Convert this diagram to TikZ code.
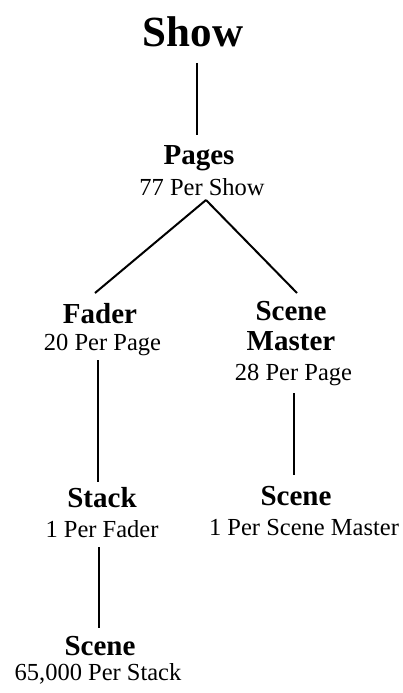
\documentclass[tikz,border=0pt]{standalone}
\usepackage{fontspec}
\setmainfont{Liberation Serif}
\begin{document}
\begin{tikzpicture}[x=1pt,y=-1pt,
  title/.style={anchor=base,inner sep=0pt,font=\fontsize{43}{45}\selectfont\bfseries},
  head/.style={anchor=base,inner sep=0pt,font=\fontsize{29}{31}\selectfont\bfseries},
  sub/.style={anchor=base,inner sep=0pt,font=\fontsize{24.5}{26}\selectfont},
  link/.style={line width=2pt}]
\useasboundingbox (0,0) rectangle (402,693);
% text
\node[title] (show) at (193,47) {Show};
\node[head] (pages) at (199,164) {Pages};
\node[sub] (pagesn) at (202,195) {77 Per Show};
\node[head] (fader) at (100,323) {Fader};
\node[sub] (fadern) at (102.5,350) {20 Per Page};
\node[head] (sm1) at (291,320) {Scene};
\node[head] (sm2) at (291,350) {Master};
\node[sub] (smn) at (293.5,380) {28 Per Page};
\node[head] (stack) at (102,507) {Stack};
\node[sub] (stackn) at (102,537) {1 Per Fader};
\node[head] (scener) at (296,505) {Scene};
\node[sub] (scenern) at (304,535) {1 Per Scene Master};
\node[head] (scenel) at (100,655) {Scene};
\node[sub] (scenelln) at (98,680) {65,000 Per Stack};
% connector ends
\coordinate (show-out) at (197,63);
\coordinate (pages-in) at (197,135);
\coordinate (apex) at (206,200);
\coordinate (fader-in) at (95,293);
\coordinate (sm-in) at (297,293);
\coordinate (fader-out) at (98,360);
\coordinate (stack-in) at (98,482);
\coordinate (sm-out) at (294,393);
\coordinate (scener-in) at (294,475);
\coordinate (stack-out) at (99,547);
\coordinate (scenel-in) at (99,628);
\draw[link] (show-out) -- (pages-in);
\draw[link] (apex) -- (fader-in);
\draw[link] (apex) -- (sm-in);
\draw[link] (fader-out) -- (stack-in);
\draw[link] (sm-out) -- (scener-in);
\draw[link] (stack-out) -- (scenel-in);
\end{tikzpicture}
\end{document}
